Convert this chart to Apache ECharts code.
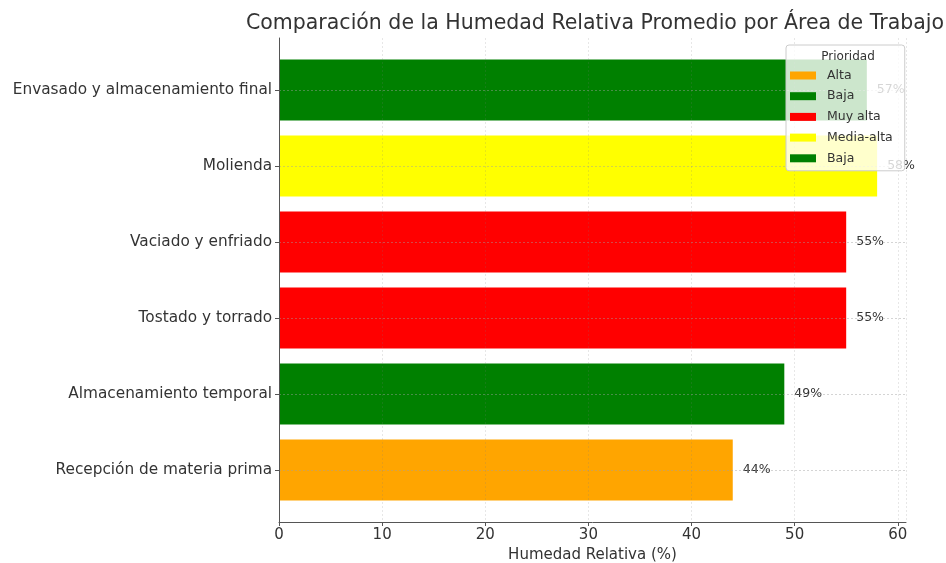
<!DOCTYPE html>
<html>
<head>
<meta charset="utf-8">
<script src="https://cdn.jsdelivr.net/npm/echarts@6/dist/echarts.min.js"></script>
<style>
    html, body { margin: 0; padding: 0; background: #fff; }
    #chart { width: 946px; height: 563px; }
</style>
</head>
<body>
<div id="chart"></div>
<script>
// categorias de abajo hacia arriba
var categories = ['Recepción de materia prima', 'Almacenamiento temporal', 'Tostado y torrado',
    'Vaciado y enfriado', 'Molienda', 'Envasado y almacenamiento final'];
var humedad = [44, 49, 55, 55, 58, 57];
// entrada de leyenda que corresponde a cada barra
var barLegend = ['Alta', 'Baja', 'Muy alta', 'Muy alta', 'Media-alta', 'Baja '];
var legendNames = ['Alta', 'Baja', 'Muy alta', 'Media-alta', 'Baja '];
var legendColors = ['#ffa500', '#008000', '#ff0000', '#ffff00', '#008000'];
var xTicks = [0, 10, 20, 30, 40, 50, 60];

var font = 'DejaVu Sans';
var xMax = 60.8;

(function() {
    var chart = echarts.init(document.getElementById('chart'));
    var series = [], i;

    for (i = 0; i < legendNames.length; i++) {
        series.push({
            name: legendNames[i],
            type: 'bar',
            xAxisIndex: 1,
            yAxisIndex: 1,
            stack: 'total',
            barWidth: '80%',
            itemStyle: { color: legendColors[i] },
            label: {
                show: true,
                position: 'right',
                distance: 10,
                formatter: '{c}%',
                color: '#333',
                fontSize: 12.5,
                fontFamily: font
            },
            data: humedad.map(function(v, k) {
                return barLegend[k] === legendNames[i] ? v : '-';
            })
        });
    }

    // lineas de rejilla horizontales en el centro de cada categoria
    series.push({
        type: 'line',
        xAxisIndex: 1,
        yAxisIndex: 1,
        data: [],
        markLine: {
            silent: true,
            symbol: 'none',
            animation: false,
            label: { show: false },
            lineStyle: { color: 'rgba(160,160,160,0.45)', type: [2, 2], width: 1 },
            data: categories.map(function(c) { return { yAxis: c }; })
        }
    });

    var option = {
        animation: false,
        title: [
            {
                text: 'Comparación de la Humedad Relativa Promedio por Área de Trabajo',
                left: 590,
                top: 8,
                textAlign: 'center',
                textStyle: { fontFamily: font, fontSize: 20.5, fontWeight: 'normal', color: '#333' }
            },
            {
                text: 'Prioridad',
                left: 843,
                top: 46,
                textAlign: 'center',
                z: 30,
                textStyle: { fontFamily: font, fontSize: 12, fontWeight: 'normal', color: '#333' }
            }
        ],
        legend: {
            orient: 'vertical',
            left: 786,
            top: 45,
            padding: [24, 12, 6, 4],
            itemGap: 7.7,
            itemWidth: 26,
            itemHeight: 8,
            icon: 'rect',
            backgroundColor: 'rgba(255,255,255,0.8)',
            borderColor: '#cccccc',
            borderWidth: 1,
            borderRadius: 3,
            z: 20,
            selectedMode: false,
            textStyle: { fontFamily: font, fontSize: 12.5, color: '#333', padding: [0, 0, 0, 6] },
            data: legendNames
        },
        grid: [
            { left: 279, top: 38, width: 627, height: 484, outerBoundsMode: 'none' },
            { left: 279, top: 52, width: 627, height: 456, outerBoundsMode: 'none' }
        ],
        xAxis: [
            {
                type: 'value',
                gridIndex: 0,
                min: 0,
                max: xMax,
                interval: 10,
                z: 10,
                name: 'Humedad Relativa (%)',
                nameLocation: 'middle',
                nameGap: 25,
                nameTextStyle: { fontFamily: font, fontSize: 15, color: '#333' },
                axisLine: { show: true, lineStyle: { color: '#555' } },
                axisTick: { show: true, length: 4, lineStyle: { color: '#555' } },
                axisLabel: {
                    fontFamily: font, fontSize: 15, color: '#333', margin: 6,
                    showMaxLabel: false,
                    formatter: function(v) { return xTicks.indexOf(v) >= 0 ? String(v) : ''; }
                },
                splitLine: { show: true, lineStyle: { color: 'rgba(120,120,120,0.18)', type: [2, 2] } }
            },
            { type: 'value', gridIndex: 1, min: 0, max: xMax, show: false }
        ],
        yAxis: [
            {
                type: 'value',
                gridIndex: 0,
                min: 0,
                max: 1,
                z: 10,
                axisLine: { show: true, lineStyle: { color: '#555' } },
                axisTick: { show: false },
                axisLabel: { show: false },
                splitLine: { show: false }
            },
            {
                type: 'category',
                gridIndex: 1,
                data: categories,
                axisLine: { show: false },
                axisTick: { show: true, alignWithLabel: true, length: 4, lineStyle: { color: '#555' } },
                axisLabel: { fontFamily: font, fontSize: 15.3, color: '#333', margin: 7 },
                splitLine: { show: false }
            }
        ],
        series: series
    };

    chart.setOption(option);
})();
</script>
</body>
</html>
